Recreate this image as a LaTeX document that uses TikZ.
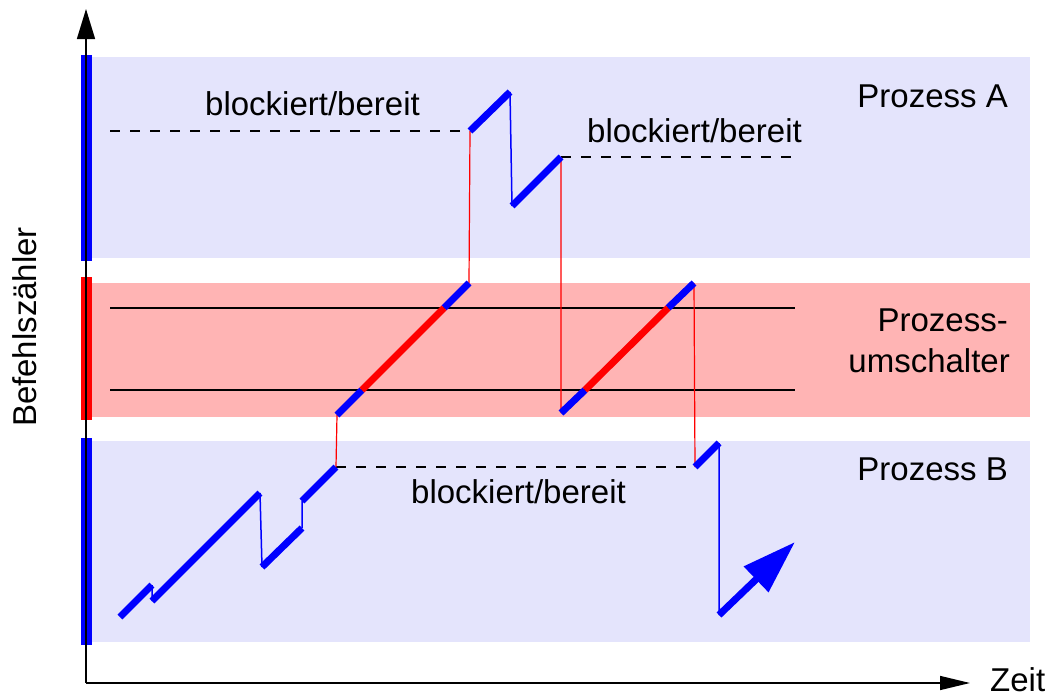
\documentclass[tikz,border=0pt]{standalone}
\usepackage{fontspec}
\setmainfont{Liberation Sans}
\usetikzlibrary{arrows.meta}
\definecolor{bandblue}{RGB}{228,228,252}
\definecolor{bandred}{RGB}{255,180,180}
\begin{document}
\begin{tikzpicture}
  [x=1pt,y=-1pt,
  every node/.style={font=\fontsize{33}{41}\selectfont, inner sep=0pt},
  run/.style={line width=7pt, blue},
  switch/.style={line width=7pt, red},
  jump/.style={line width=1.5pt, blue},
  pass/.style={line width=1.2pt, red},
  wait/.style={line width=1.2pt, dash pattern=on 10pt off 10pt},
  axis/.style={line width=1.5pt, -{Triangle[length=30pt,width=#1]}},
  ]
  \useasboundingbox (0,0) rectangle (1053,696);
  % bands
  \fill[bandblue] (92,57) rectangle (1030,258);
  \fill[bandred] (92,283) rectangle (1030,417);
  \fill[bandblue] (92,441) rectangle (1030,642);
  \fill[blue] (81,55) rectangle (92,261);
  \fill[red] (81,277) rectangle (92,420);
  \fill[blue] (81,438) rectangle (92,645);
  % axes
  \coordinate (o) at (86,683);
  \coordinate (ytop) at (86,9);
  \coordinate (xend) at (970,683);
  \draw[axis=18pt] (o) -- (ytop);
  \draw[axis=14pt] (o) -- (xend);
  \node[rotate=90] (ylab) at (25,327) {Befehlszähler};
  \node[anchor=base west] (xlab) at (990,691) {Zeit};
  % switcher limits
  \coordinate (l1) at (110,308); \coordinate (r1) at (795,308);
  \coordinate (l2) at (110,390); \coordinate (r2) at (795,390);
  \draw[line width=1.2pt] (l1) -- (r1) (l2) -- (r2);
  % trajectory points
  \coordinate (b1) at (120,617); \coordinate (b2) at (152,585);
  \coordinate (b3) at (152,601); \coordinate (b4) at (260,493);
  \coordinate (b5) at (262,567); \coordinate (b6) at (302,528);
  \coordinate (b7) at (302,501); \coordinate (b8) at (336,467);
  \coordinate (s1) at (337,415); \coordinate (s2) at (362,390);
  \coordinate (s3) at (444,308); \coordinate (s4) at (469,283);
  \coordinate (a1) at (470,131); \coordinate (a2) at (510,92);
  \coordinate (a3) at (512,206); \coordinate (a4) at (561,157);
  \coordinate (t1) at (561,413); \coordinate (t2) at (585,390);
  \coordinate (t3) at (668,308); \coordinate (t4) at (694,283);
  \coordinate (c1) at (695,467); \coordinate (c2) at (719,443);
  \coordinate (c3) at (719,615); \coordinate (c4) at (795,542);
  % waiting
  \coordinate (wa) at (110,131); \coordinate (wa2) at (795,157);
  \draw[wait] (wa) -- (a1);
  \draw[wait] (a4) -- (wa2);
  \draw[wait] (b8) -- (c1);
  % jumps
  \draw[jump] (b2) -- (b3) (b4) -- (b5) (b6) -- (b7) (a2) -- (a3) (c2) -- (c3);
  \draw[pass] (b8) -- (s1) (s4) -- (a1) (a4) -- (t1) (t4) -- (c1);
  % running
  \draw[run] (b1) -- (b2);
  \draw[run] (b3) -- (b4);
  \draw[run] (b5) -- (b6);
  \draw[run] (b7) -- (b8);
  \draw[run] (s1) -- (s2) (s3) -- (s4);
  \draw[switch] (s2) -- (s3);
  \draw[run] (a1) -- (a2);
  \draw[run] (a3) -- (a4);
  \draw[run] (t1) -- (t2) (t3) -- (t4);
  \draw[switch] (t2) -- (t3);
  \draw[run] (c1) -- (c2);
  \draw[run, -{Triangle[length=54pt,width=34pt]}] (c3) -- (c4);
  % labels
  \node[anchor=base west] (lab1) at (205,115) {blockiert/bereit};
  \node[anchor=base west] (lab2) at (587,142) {blockiert/bereit};
  \node[anchor=base west] (lab3) at (411,503) {blockiert/bereit};
  \node[anchor=base east] (pa) at (1008,107) {Prozess A};
  \node[anchor=base east] (ps1) at (1008,331) {Prozess-};
  \node[anchor=base east] (ps2) at (1010,372) {umschalter};
  \node[anchor=base east] (pb) at (1008,480) {Prozess B};
\end{tikzpicture}
\end{document}
